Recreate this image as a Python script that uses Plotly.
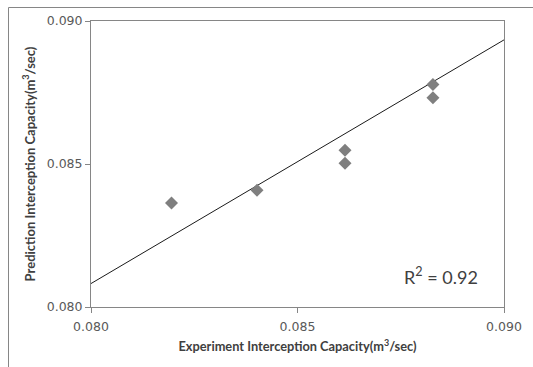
import plotly.graph_objects as go

# Data
exp_capacity = [0.08195, 0.08402, 0.08615, 0.08615, 0.08828, 0.08828]
pred_capacity = [0.08364, 0.08408, 0.08548, 0.08503, 0.08778, 0.08732]
trend_x = [0.080, 0.090]
trend_y = [0.08082, 0.08934]
tick_vals = [0.080, 0.085, 0.090]
tick_text = ["0.080", "0.085", "0.090"]
r2_label = "R<sup>2</sup> = 0.92"

W, H = 533, 367
ML, MR, MT, MB = 91, 29, 21, 60

fig = go.Figure()
fig.add_trace(go.Scatter(x=trend_x, y=trend_y, mode="lines",
                         line=dict(color="#1a1a1a", width=1), showlegend=False,
                         hoverinfo="skip"))
fig.add_trace(go.Scatter(x=exp_capacity, y=pred_capacity, mode="markers",
                         marker=dict(symbol="diamond", size=10, color="#7f7f7f",
                                     line=dict(width=0)),
                         showlegend=False))

axis_common = dict(
    range=[0.080, 0.090], tickvals=tick_vals, ticktext=tick_text,
    showgrid=False, zeroline=False, showline=True, linecolor="#868686",
    linewidth=1, ticks="outside", ticklen=5, tickcolor="#868686",
    tickfont=dict(family="DejaVu Sans", size=12.5, color="#595959"),
    mirror=True,
)
fig.update_xaxes(**axis_common, ticklabelstandoff=3,
                 title=dict(text="Experiment Interception Capacity(m<sup>3</sup>/sec)",
                            font=dict(family="Lato", size=12.8, color="#404040",
                                      weight="bold"), standoff=9))
fig.update_yaxes(**axis_common,
                 title=dict(text="Prediction Interception Capacity(m<sup>3</sup>/sec)",
                            font=dict(family="Lato", size=13, color="#404040",
                                      weight="bold"), standoff=8))

fig.add_annotation(x=0.08848, y=0.0811, xref="x", yref="y", text=r2_label,
                   showarrow=False,
                   font=dict(family="Lato", size=18, color="#404040"))

# outer chart frame (top and left edges visible)
pw = W - ML - MR
ph = H - MT - MB
x0 = (8.5 - ML) / pw
y1 = 1 + (MT - 7.5) / ph
fig.add_shape(type="line", xref="paper", yref="paper", x0=x0, x1=(W + 5 - ML) / pw,
              y0=y1, y1=y1, line=dict(color="#868686", width=1))
fig.add_shape(type="line", xref="paper", yref="paper", x0=x0, x1=x0,
              y0=y1, y1=-(MB + 5) / ph, line=dict(color="#868686", width=1))

fig.update_layout(width=W, height=H, margin=dict(l=ML, r=MR, t=MT, b=MB),
                  plot_bgcolor="white", paper_bgcolor="white")

fig.write_html("out.html")
